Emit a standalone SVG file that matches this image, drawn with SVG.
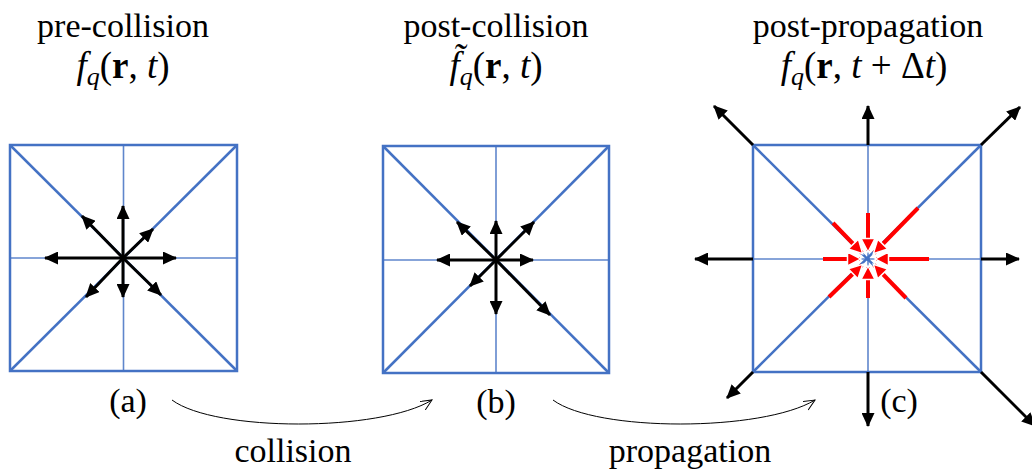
<svg xmlns="http://www.w3.org/2000/svg" width="1032" height="472" viewBox="0 0 1032 472">
<style>
.t{font-family:"Liberation Serif","Times New Roman",serif;font-size:34px;fill:#000}
.m{font-family:"Liberation Serif","Times New Roman",serif;font-size:37px;fill:#000}
.sq{fill:none;stroke:#4472C4;stroke-width:2.5}
.dg{stroke:#4472C4;stroke-width:2.5}
.md{stroke:#4472C4;stroke-width:1.6;opacity:0.85}
.ar{stroke:#000;stroke-width:3;marker-end:url(#ah)}
.rd{stroke:#FF0000;stroke-width:4;marker-end:url(#rh)}
.cv{fill:none;stroke:#000;stroke-width:1;marker-end:url(#oh)}
</style>
<defs>
<marker id="ah" markerUnits="userSpaceOnUse" markerWidth="15" markerHeight="13" refX="13" refY="6.5" orient="auto">
<path d="M0,0 L14,6.5 L0,13 Z" fill="#000"/>
</marker>
<marker id="rh" markerUnits="userSpaceOnUse" markerWidth="18" markerHeight="18" refX="14" refY="9" orient="auto">
<path d="M1.5,2 L15,9 L1.5,16 Z" fill="#FF0000" stroke="#fff" stroke-width="1.5"/>
</marker>
<marker id="oh" markerUnits="userSpaceOnUse" markerWidth="14" markerHeight="12" refX="11" refY="5" orient="auto">
<path d="M0,0 L11,5 L0,10" fill="none" stroke="#000" stroke-width="1"/>
</marker>
</defs>

<g id="title-a">
<text class="t" x="123" y="37" text-anchor="middle">pre-collision</text>
<text class="m" x="123" y="78" text-anchor="middle"><tspan font-style="italic">f</tspan><tspan font-style="italic" font-size="26" dy="7">q</tspan><tspan dy="-7">(</tspan><tspan font-weight="bold">r</tspan>, <tspan font-style="italic">t</tspan>)</text>
</g>
<g id="title-b">
<text class="t" x="496" y="37" text-anchor="middle">post-collision</text>
<text class="m" x="496" y="78" text-anchor="middle"><tspan font-style="italic">f̃</tspan><tspan font-style="italic" font-size="26" dy="7">q</tspan><tspan dy="-7">(</tspan><tspan font-weight="bold">r</tspan>, <tspan font-style="italic">t</tspan>)</text>
</g>
<g id="title-c">
<text class="t" x="868" y="37" text-anchor="middle">post-propagation</text>
<text class="m" x="864" y="78" text-anchor="middle"><tspan font-style="italic">f</tspan><tspan font-style="italic" font-size="26" dy="7">q</tspan><tspan dy="-7">(</tspan><tspan font-weight="bold">r</tspan>, <tspan font-style="italic">t</tspan> + Δ<tspan font-style="italic">t</tspan>)</text>
</g>

<g id="panel-a">
<line class="md" x1="123.5" y1="145" x2="123.5" y2="371"/>
<line class="md" x1="10" y1="258" x2="237" y2="258"/>
<line class="dg" x1="10" y1="145" x2="237" y2="371"/>
<line class="dg" x1="237" y1="145" x2="10" y2="371"/>
<rect class="sq" x="10" y="145" width="227" height="226"/>
<line class="ar" x1="123" y1="258" x2="123" y2="206"/>
<line class="ar" x1="123" y1="258" x2="45" y2="258"/>
<line class="ar" x1="123" y1="258" x2="176" y2="258"/>
<line class="ar" x1="123" y1="258" x2="123" y2="297"/>
<line class="ar" x1="123" y1="258" x2="82" y2="216"/>
<line class="ar" x1="123" y1="258" x2="153" y2="229"/>
<line class="ar" x1="123" y1="258" x2="86" y2="297"/>
<line class="ar" x1="123" y1="258" x2="161" y2="295"/>
<text class="t" x="128" y="412" text-anchor="middle">(a)</text>
</g>

<g id="panel-b">
<line class="md" x1="496" y1="146" x2="496" y2="373"/>
<line class="md" x1="383" y1="260" x2="609" y2="260"/>
<line class="dg" x1="383" y1="146" x2="609" y2="373"/>
<line class="dg" x1="609" y1="146" x2="383" y2="373"/>
<rect class="sq" x="383" y="146" width="226" height="227"/>
<line class="ar" x1="496" y1="260" x2="496" y2="221"/>
<line class="ar" x1="496" y1="260" x2="437" y2="260"/>
<line class="ar" x1="496" y1="260" x2="533" y2="260"/>
<line class="ar" x1="496" y1="260" x2="496" y2="314"/>
<line class="ar" x1="496" y1="260" x2="457" y2="222"/>
<line class="ar" x1="496" y1="260" x2="534" y2="222"/>
<line class="ar" x1="496" y1="260" x2="470" y2="286"/>
<line class="ar" x1="496" y1="260" x2="550" y2="315"/>
<text class="t" x="496" y="413" text-anchor="middle">(b)</text>
</g>

<g id="panel-c">
<line class="md" x1="868" y1="145" x2="868" y2="372"/>
<line class="md" x1="753" y1="259" x2="981" y2="259"/>
<line class="dg" x1="753" y1="145" x2="981" y2="372"/>
<line class="dg" x1="981" y1="145" x2="753" y2="372"/>
<rect class="sq" x="753" y="145" width="228" height="227"/>
<line class="rd" x1="868" y1="213" x2="868" y2="251"/>
<line class="rd" x1="823" y1="259" x2="860" y2="259"/>
<line class="rd" x1="929" y1="259" x2="876" y2="259"/>
<line class="rd" x1="868" y1="298" x2="868" y2="267"/>
<line class="rd" x1="833" y1="223" x2="862" y2="253"/>
<line class="rd" x1="918" y1="208" x2="874" y2="253"/>
<line class="rd" x1="829" y1="297" x2="862" y2="265"/>
<line class="rd" x1="906" y1="298" x2="874" y2="265"/>
<circle cx="868" cy="259" r="2" fill="#4472C4"/>
<line class="ar" x1="868" y1="145" x2="868" y2="106"/>
<line class="ar" x1="753" y1="259" x2="695" y2="259"/>
<line class="ar" x1="981" y1="259" x2="1019" y2="259"/>
<line class="ar" x1="868" y1="372" x2="868" y2="426"/>
<line class="ar" x1="753" y1="145" x2="714" y2="106"/>
<line class="ar" x1="981" y1="145" x2="1020" y2="107"/>
<line class="ar" x1="753" y1="372" x2="727" y2="398"/>
<line class="ar" x1="981" y1="372" x2="1035" y2="426"/>
<text class="t" x="899" y="412" text-anchor="middle">(c)</text>
</g>

<g id="connectors">
<path class="cv" d="M172,400 C215,432 380,432 432,400"/>
<path class="cv" d="M553,400 C596,432 762,432 815,400"/>
</g>
<g id="labels">
<text class="t" x="293" y="462" text-anchor="middle">collision</text>
<text class="t" x="690" y="462" text-anchor="middle">propagation</text>
</g>
</svg>
